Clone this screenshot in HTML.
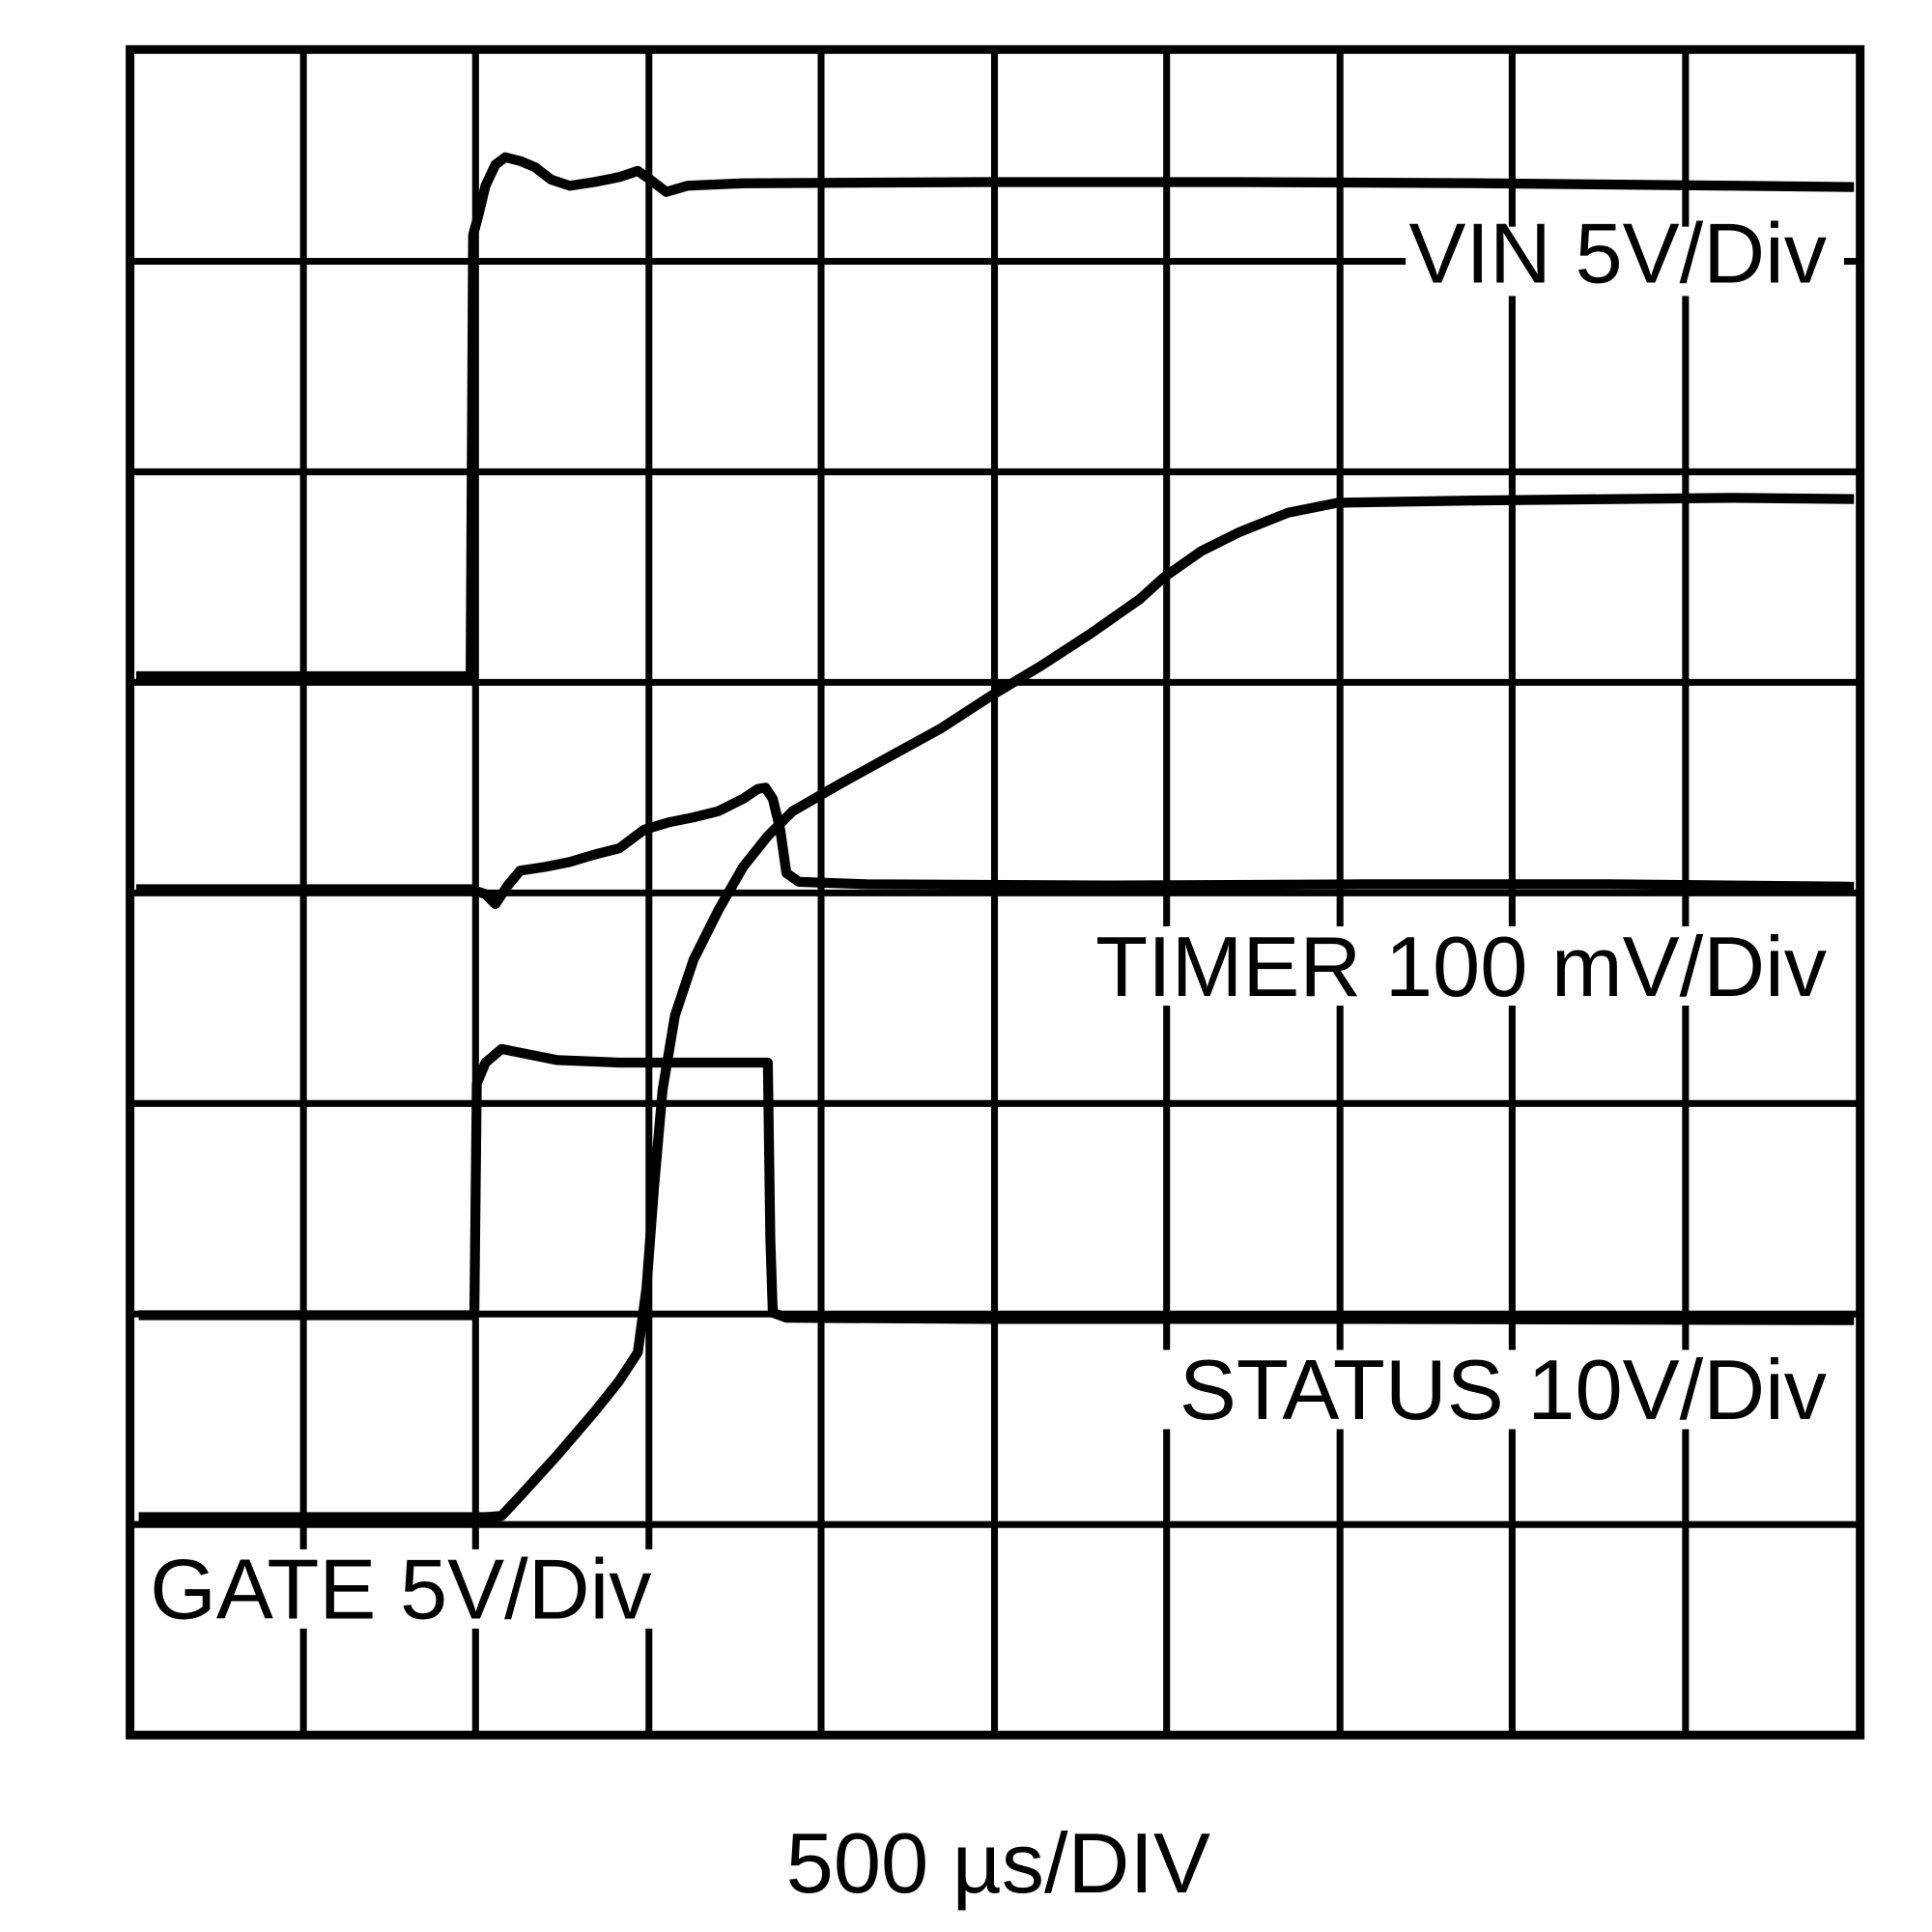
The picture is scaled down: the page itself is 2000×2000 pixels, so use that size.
<!DOCTYPE html>
<html><head><meta charset="utf-8"><style>
html,body{margin:0;padding:0;background:#fff;}
svg{display:block;}
text{font-family:"Liberation Sans",Arial,sans-serif;fill:#000;}
</style></head><body>
<svg width="2000" height="2000" viewBox="0 0 1560 1560" xmlns="http://www.w3.org/2000/svg">
<rect width="1560" height="1560" fill="#fff"/>
<g stroke="#000" stroke-width="5.5" fill="none">
<line x1="245" y1="40" x2="245" y2="1401"/>
<line x1="384" y1="40" x2="384" y2="1401"/>
<line x1="524" y1="40" x2="524" y2="1401"/>
<line x1="663" y1="40" x2="663" y2="1401"/>
<line x1="803" y1="40" x2="803" y2="1401"/>
<line x1="942" y1="40" x2="942" y2="1401"/>
<line x1="1082" y1="40" x2="1082" y2="1401"/>
<line x1="1221" y1="40" x2="1221" y2="1401"/>
<line x1="1361" y1="40" x2="1361" y2="1401"/>
<line x1="105" y1="211" x2="1502" y2="211"/>
<line x1="105" y1="381" x2="1502" y2="381"/>
<line x1="105" y1="551" x2="1502" y2="551"/>
<line x1="105" y1="721" x2="1502" y2="721"/>
<line x1="105" y1="891" x2="1502" y2="891"/>
<line x1="105" y1="1061" x2="1502" y2="1061"/>
<line x1="105" y1="1231" x2="1502" y2="1231"/>
</g>
<rect x="105" y="40" width="1397" height="1361" fill="none" stroke="#000" stroke-width="7"/>
<g fill="#fff">
<rect x="1135" y="183" width="354" height="56"/>
<rect x="880" y="748" width="602" height="64"/>
<rect x="935" y="1090" width="547" height="64"/>
<rect x="118" y="1251" width="422" height="64"/>
</g>
<g stroke="#000" stroke-width="8" fill="none" stroke-linejoin="round">
<polyline points="110,546 380,546 382,190 386,175 392,150 400,133 408,127 420,130 432,135 445,145 460,150 480,147 500,143 515,138 525,145 538,155 555,150 600,148 800,147 1000,147 1200,148 1400,150 1497,151"/>
<polyline points="110,718 380,718 392,722 400,730 410,715 420,703 440,700 460,696 480,690 500,685 520,670 540,664 560,660 580,655 600,645 612,637 618,636 624,645 630,670 635,705 645,712 700,714 900,715 1100,714 1300,714 1497,716"/>
<polyline points="112,1062 383,1062 385,875 392,858 405,847 420,850 450,856 500,858 620,858 622,1000 624,1060 635,1064 800,1065 1100,1065 1497,1066"/>
<polyline points="112,1225 385,1225 392,1225 405,1224 420,1208 450,1175 480,1140 500,1115 515,1092 522,1040 528,960 535,880 545,820 560,775 580,735 600,700 620,675 640,655 680,632 720,610 760,588 800,562 840,538 880,512 920,484 940,466 970,445 1000,430 1040,414 1080,406 1200,404 1400,402 1497,403"/>
</g>
<text x="1475" y="228" font-size="69" text-anchor="end">VIN 5V/Div</text>
<text x="1475" y="804" font-size="69" text-anchor="end">TIMER 100 mV/Div</text>
<text x="1475" y="1146" font-size="69" text-anchor="end">STATUS 10V/Div</text>
<text x="121" y="1307" font-size="69">GATE 5V/Div</text>
<text x="806" y="1528" font-size="69" text-anchor="middle">500 µs/DIV</text>
</svg>
</body></html>
